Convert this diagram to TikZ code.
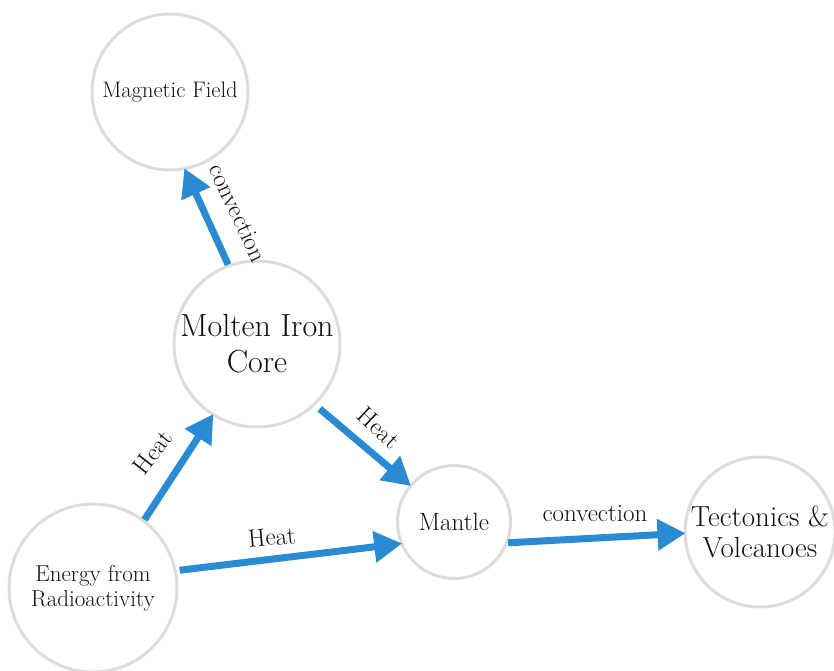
\documentclass[tikz,border=0pt]{standalone}
\usetikzlibrary{arrows.meta}
\definecolor{ringgray}{HTML}{DCDCDC}
\definecolor{arrowblue}{HTML}{2A8BD2}
\definecolor{txt}{HTML}{111111}
\tikzset{
  ring/.style={circle, draw=ringgray, line width=3pt, fill=white, text=txt, align=center, inner sep=0pt},
  flow/.style={draw=arrowblue, line width=7pt, -{Triangle[length=28pt,width=30pt]}, shorten >=-2pt},
  lbl/.style={text=txt, font=\fontsize{25}{28}\selectfont, inner sep=0pt}
}
\begin{document}
\begin{tikzpicture}[x=1pt,y=-1pt]
\useasboundingbox (0,0) rectangle (834,670);
\node[ring, minimum size=156pt, font=\fontsize{22.5}{26}\selectfont] (mag) at (170,92) {Magnetic Field};
\node[ring, minimum size=166pt, font=\fontsize{32}{36}\selectfont] (core) at (257,344) {Molten Iron\\Core};
\node[ring, minimum size=113pt, font=\fontsize{25}{28}\selectfont] (mantle) at (454,522) {Mantle};
\node[ring, minimum size=168pt, font=\fontsize{23}{25}\selectfont] (energy) at (93,588) {Energy from\\Radioactivity};
\node[ring, minimum size=150pt, font=\fontsize{29}{31}\selectfont] (tect) at (760,532) {Tectonics \&\\Volcanoes};

\draw[flow] (core.110) -- (mag.-79);
\draw[flow] (energy.53) -- (core.-122);
\draw[flow] ([shift={(4pt,-4pt)}]core.-46) -- (mantle.140);
\draw[flow] ([shift={(3pt,0pt)}]energy.12) -- (mantle.-158);
\draw[flow] (mantle.-21) -- (tect.181);

\node[lbl, rotate=-65] (l1) at (238,213) {convection};
\node[lbl, rotate=52] (l2) at (153,452) {Heat};
\node[lbl, rotate=-43] (l3) at (379,428) {Heat};
\node[lbl, rotate=5] (l4) at (272,537) {Heat};
\node[lbl] (l5) at (595,514) {convection};
\end{tikzpicture}
\end{document}
